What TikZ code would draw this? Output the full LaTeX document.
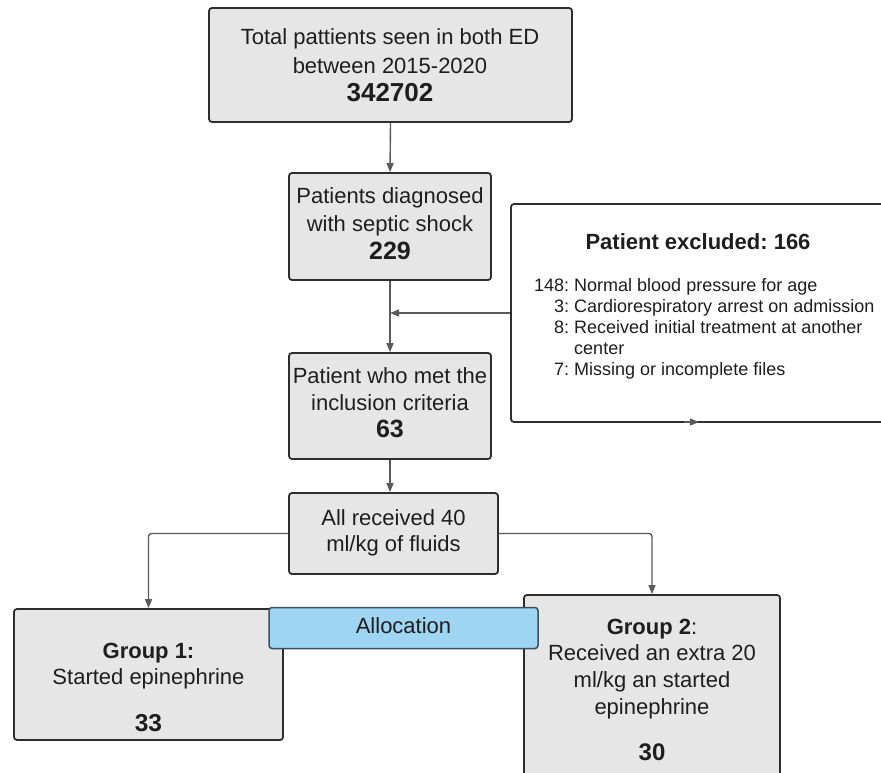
\documentclass[tikz,border=0pt]{standalone}
\usepackage{fontspec}
\setmainfont{Liberation Sans}
\usetikzlibrary{arrows.meta}
\frenchspacing
\definecolor{boxfill}{HTML}{E6E6E6}
\definecolor{boxline}{HTML}{2E2E2E}
\definecolor{arrowc}{HTML}{5A5A5A}
\definecolor{allocfill}{HTML}{9DD5F2}
\definecolor{allocline}{HTML}{3F4F5A}
\definecolor{txtc}{HTML}{1E1E1E}
\newcommand\fntL[1]{\fontsize{22}{#1}\selectfont}
\newcommand\fntS{\fontsize{18}{21}\selectfont}
\newcommand\numtxt[2]{{\fontsize{#1}{#1}\selectfont\textbf{#2}}}
\tikzset{
  box/.style={draw=boxline, fill=boxfill, line width=1.8pt, rounded corners=3pt, inner sep=0pt},
  allocbox/.style={draw=allocline, fill=allocfill, line width=1.5pt, rounded corners=3pt, inner sep=0pt},
  whitebox/.style={draw=boxline, fill=white, line width=1.8pt, rounded corners=3pt, inner sep=0pt},
  arr/.style={draw=arrowc, line width=1.4pt, rounded corners=3pt, -{Triangle[length=9pt,width=7pt]}},
  txt/.style={inner sep=0pt, anchor=base, text=txtc}
}
\begin{document}
\begin{tikzpicture}[x=1pt,y=-1pt]
\useasboundingbox (0,0) rectangle (881,773);
\fill[white] (0,0) rectangle (881,773);
\clip (0,0) rectangle (881,773);

% boxes
\node[box, minimum width=363pt, minimum height=114pt] (top) at (390.5,65) {};
\node[box, minimum width=202pt, minimum height=107pt] (diag) at (390,226.5) {};
\node[box, minimum width=202pt, minimum height=106pt] (incl) at (390,406) {};
\node[box, minimum width=209pt, minimum height=81pt] (fluid) at (393.5,533.5) {};
\node[whitebox, minimum width=380pt, minimum height=218pt] (excl) at (701,313) {};
\node[box, minimum width=269pt, minimum height=131pt] (g1) at (148.5,674.5) {};
\node[box, minimum width=256pt, minimum height=181pt] (g2) at (652,685.5) {};

% texts
\node[txt] (toptxt) at (390,45) {\fntL{28.5}\begin{tabular}[t]{@{}c@{}}Total pattients seen in both ED\\between 2015-2020\\\numtxt{26}{342702}\end{tabular}};
\node[txt] (diagtxt) at (390,204) {\fntL{28}\begin{tabular}[t]{@{}c@{}}Patients diagnosed\\with septic shock\\\numtxt{25}{229}\end{tabular}};
\node[txt] (incltxt) at (390,383) {\fntL{27}\begin{tabular}[t]{@{}c@{}}Patient who met the\\inclusion criteria\\\numtxt{25}{63}\end{tabular}};
\node[txt] (fluidtxt) at (393.5,525) {\fntL{26}\begin{tabular}[t]{@{}c@{}}All received 40\\ml/kg of fluids\end{tabular}};
\node[txt] (g1txt) at (148.5,658) {\fntL{26}\begin{tabular}[t]{@{}c@{}}\textbf{Group 1:}\\Started epinephrine\\[21pt]\numtxt{24.5}{33}\end{tabular}};
\node[txt] (g2txt) at (652,634) {\fntL{26.7}\begin{tabular}[t]{@{}c@{}}\textbf{Group 2}:\\Received an extra 20\\ml/kg an started\\epinephrine\\[20pt]\numtxt{24}{30}\end{tabular}};
\node[txt] (excltitle) at (698,249) {\fntL{26}\textbf{Patient excluded: 166}};
\node[txt, anchor=base west] (excllist) at (534,291) {\fntS\begin{tabular}[t]{@{}r@{\ }l@{}}148: & Normal blood pressure for age\\3: & Cardiorespiratory arrest on admission\\8: & Received initial treatment at another\\ & center\\7: & Missing or incomplete files\end{tabular}};

% connectors
\coordinate (join) at (390,313);
\draw[arr] (top.south) -- (diag.north);
\draw[arr] (diag.south) -- (incl.north);
\draw[arr] (excl.west) -- (join);
\draw[arr] (incl.south) -- (incl.south |- fluid.north);
\draw[arr] (fluid.west) -| (g1.north);
\draw[arr] (fluid.east) -| (g2.north);
\coordinate (xa) at (684,422);
\coordinate (xb) at (699,422);
\draw[arr] (xa) -- (xb);

% allocation drawn over the group boxes
\node[allocbox, minimum width=269pt, minimum height=41pt] (alloc) at (403.5,628) {};
\node[txt] (alloctxt) at (403.5,633) {\fntL{26}Allocation};
\end{tikzpicture}
\end{document}
